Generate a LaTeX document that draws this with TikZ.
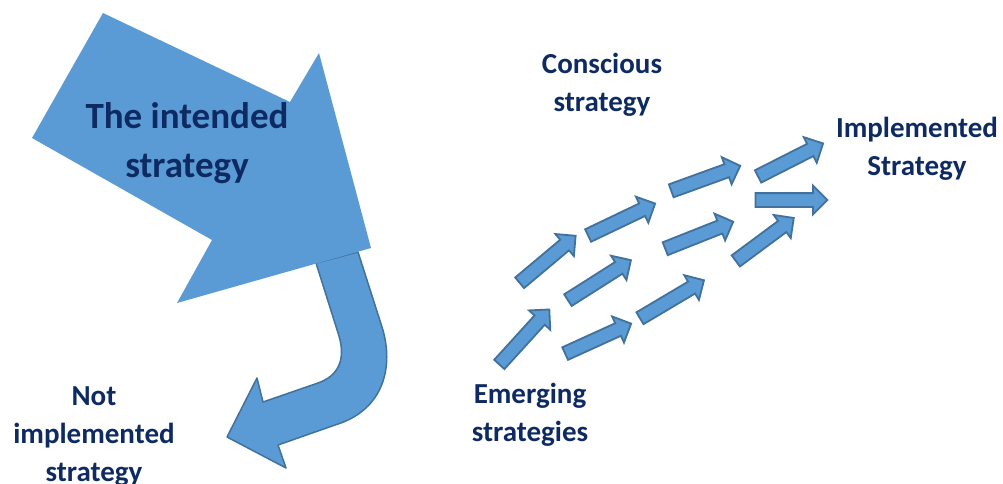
\documentclass[tikz,border=0pt]{standalone}
\usepackage{fontspec}
\setmainfont{Carlito}
\usetikzlibrary{shapes.arrows}
\usepackage{xcolor}
\definecolor{arrowblue}{HTML}{5B9BD5}
\definecolor{edgeblue}{HTML}{41719C}
\definecolor{labelblue}{HTML}{0E2A62}

\begin{document}
\begin{tikzpicture}[
  x=1pt, y=-1pt,
  label/.style={align=center, anchor=base, text=labelblue, inner sep=0pt, font=\bfseries\fontsize{29}{38}\selectfont},
  biglabel/.style={label, font=\bfseries\fontsize{37}{49}\selectfont},
  bigarrow/.style={fill=arrowblue},
  bentarrow/.style={fill=arrowblue, draw=edgeblue, line width=1.5pt, line join=round},
  smallarrow/.style={single arrow, fill=arrowblue, draw=edgeblue, line width=1.8pt, inner sep=0pt,
    text height=6pt, text depth=6pt, single arrow head extend=7.5pt, minimum width=0pt}
]
\useasboundingbox (0,0) rectangle (1003,484);

\draw[bentarrow] (316,263) -- (339,336) .. controls (346,360) and (338,376) .. (318,383)
  -- (263,402) -- (257,378) -- (227,437) -- (286,468) -- (278,445)
  -- (335,425) .. controls (385,410) and (394,365) .. (382,327) -- (358,252) -- cycle;
\fill[bigarrow] (103,13) -- (290,102) -- (319,53) -- (371,248) -- (177,303) -- (212,240) -- (32,138) -- cycle;

\foreach \ax/\ay/\bx/\by [count=\i] in {497/367/547/312, 562/355/628/325, 637/320/701/282,
    733/263/791/220, 565/302/628/262, 662/250/730/223, 752/200/824/200,
    517/285/573/238, 585/237/652/205, 668/192/737/167, 755/178/820/145}{
  \pgfmathsetmacro\ang{atan2(\ay-\by,\bx-\ax)}
  \pgfmathsetmacro\len{veclen(\bx-\ax,\by-\ay)}
  \node[smallarrow, minimum height=\len pt, rotate=\ang] (s\i) at ({(\ax+\bx)/2},{(\ay+\by)/2}) {};
}

\node[biglabel] (intended) at (187,177) {The intended\\strategy};
\node[label] (conscious) at (602,112) {Conscious\\strategy};
\node[label] (implemented) at (917,175) {Implemented\\Strategy};
\node[label] (emerging) at (530,441) {Emerging\\strategies};
\node[label] (notimpl) at (94,481) {Not\\implemented\\strategy};
\end{tikzpicture}
\end{document}
